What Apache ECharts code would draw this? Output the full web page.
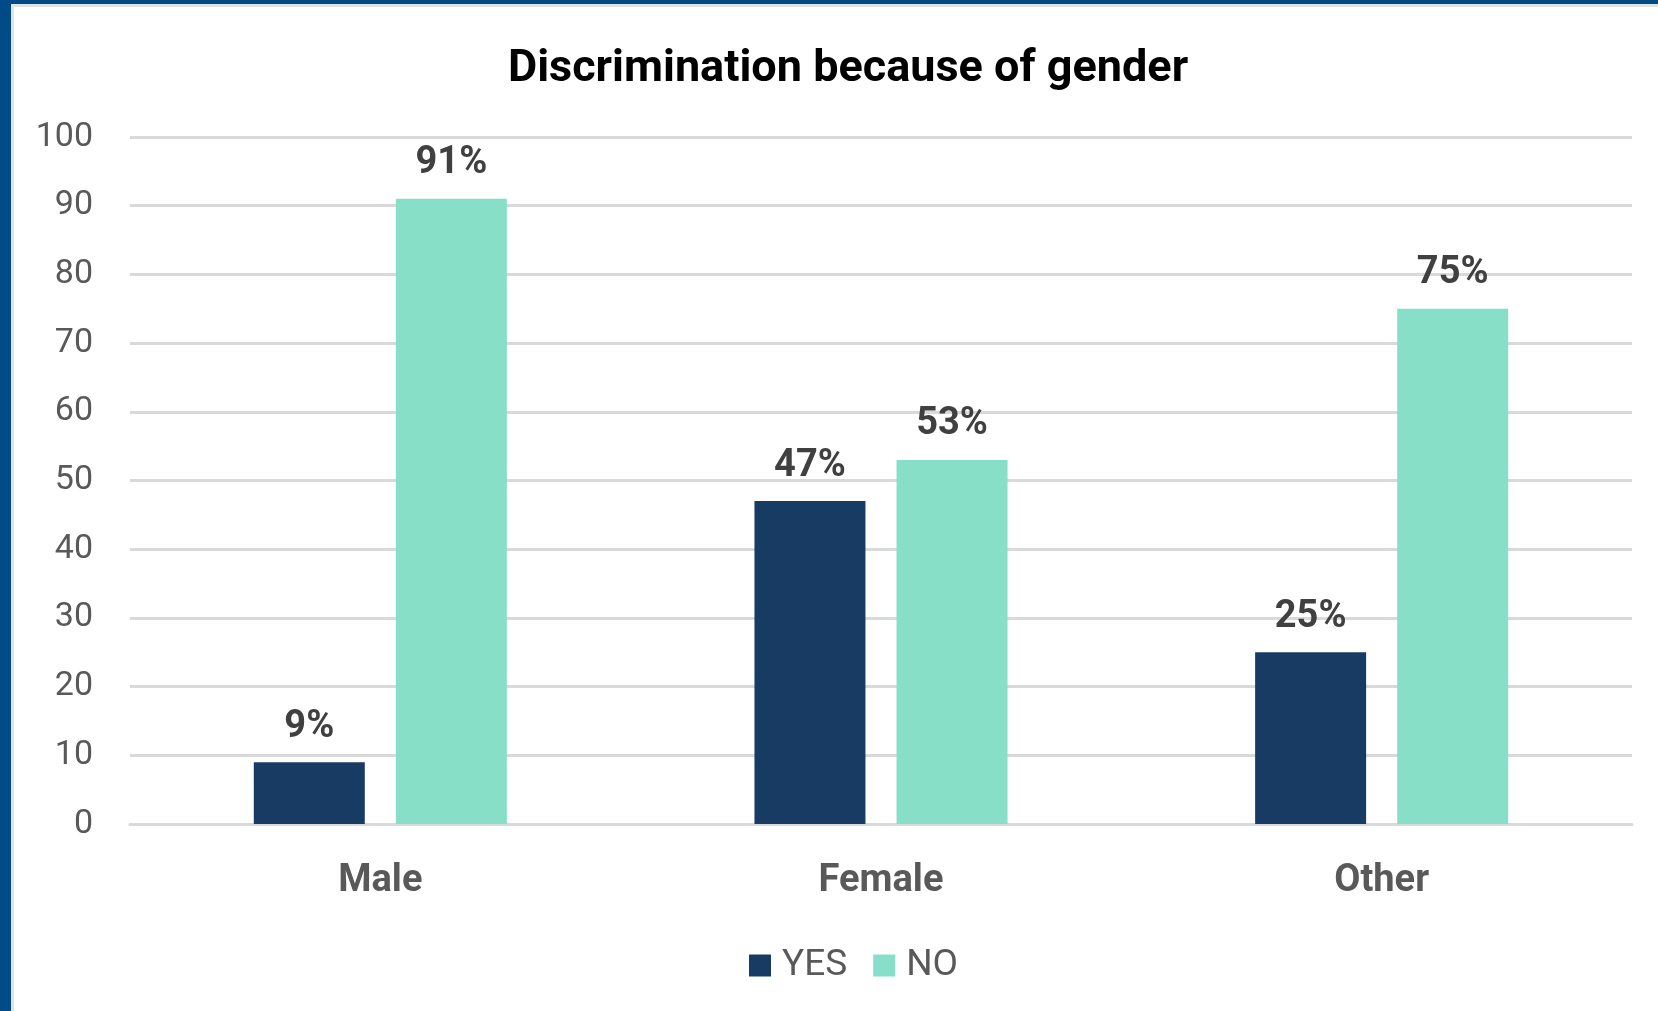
<!DOCTYPE html>
<html>
<head>
<meta charset="utf-8">
<script src="https://cdn.jsdelivr.net/npm/echarts@6/dist/echarts.min.js"></script>
<style>
html,body{margin:0;padding:0;background:#fff;}
#wrap{position:relative;width:1658px;height:1011px;overflow:hidden;}
#chart{position:absolute;left:0;top:0;width:1658px;height:1011px;}
#bl{position:absolute;left:0;top:0;width:11px;height:1011px;background:#004a87;}
#bt{position:absolute;left:0;top:0;width:1658px;height:4px;background:#004a87;}
#gl{position:absolute;left:11px;top:4px;width:3px;height:1007px;background:#e3e3e3;}
#gt{position:absolute;left:11px;top:4px;width:1647px;height:3px;background:#e3e3e3;}
</style>
</head>
<body>
<div id="wrap">
<div id="chart"></div>
<div id="gl"></div><div id="gt"></div>
<div id="bl"></div><div id="bt"></div>
</div>
<script>
var titleText = 'Discrimination because of gender';
var categories = ['Male', 'Female', 'Other'];
var seriesNames = ['YES', 'NO'];
var yesValues = [9, 47, 25];
var noValues = [91, 53, 75];
var yTicks = {min: 0, max: 100, interval: 10};

var chart = echarts.init(document.getElementById('chart'));
var font = 'Roboto, "Noto Sans", sans-serif';
var labelStyle = {
  show: true, position: 'top', distance: 16,
  formatter: function(p){ return p.value + '%'; },
  fontFamily: font, fontSize: 38, fontWeight: 'bold', color: '#404040'
};
chart.setOption({
  animation: false,
  title: {
    text: titleText, left: 843, top: 42, textAlign: 'center',
    textStyle: {fontFamily: font, fontSize: 45, fontWeight: 'bold', color: '#000'}
  },
  legend: {
    data: seriesNames, left: 744, top: 942,
    itemWidth: 22, itemHeight: 22, itemGap: 26, icon: 'rect',
    textStyle: {fontFamily: font, fontSize: 37, color: '#595959', padding: [0,0,0,6]}
  },
  grid: {left: 130, right: 26, top: 137, bottom: 187, containLabel: false},
  xAxis: {
    type: 'category', data: categories,
    axisLine: {show: true, lineStyle: {color: '#d9d9d9', width: 3}},
    axisTick: {show: false},
    axisLabel: {margin: 38, fontFamily: font, fontSize: 38, fontWeight: 'bold', color: '#595959'}
  },
  yAxis: {
    type: 'value', min: yTicks.min, max: yTicks.max, interval: yTicks.interval,
    axisLine: {show: false}, axisTick: {show: false},
    splitLine: {lineStyle: {color: '#d9d9d9', width: 3}},
    axisLabel: {margin: 37, fontFamily: font, fontSize: 34, color: '#595959', padding: [8,0,0,0]}
  },
  series: [
    {name: seriesNames[0], type: 'bar', data: yesValues, barWidth: 111, barGap: '28%',
     itemStyle: {color: '#183b63'}, label: labelStyle},
    {name: seriesNames[1], type: 'bar', data: noValues, barWidth: 111,
     itemStyle: {color: '#88dfc8'}, label: labelStyle}
  ]
});
</script>
</body>
</html>
